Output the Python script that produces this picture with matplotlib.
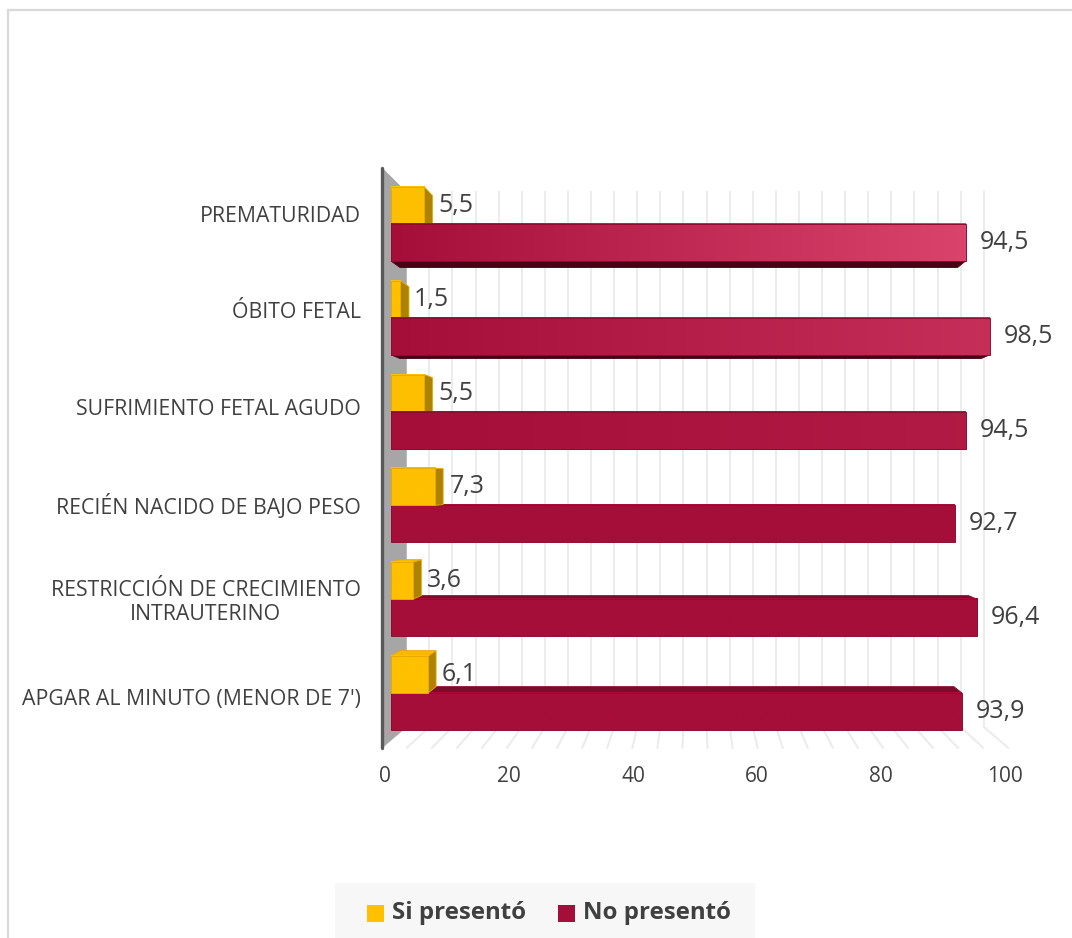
import numpy as np
import matplotlib.pyplot as plt
from matplotlib.patches import Polygon, Rectangle
from matplotlib.colors import to_rgb

plt.rcParams['font.family'] = ['Open Sans', 'DejaVu Sans']

# datos (de abajo hacia arriba)
categorias = ["APGAR AL MINUTO (MENOR DE 7')",
              "RESTRICCIÓN DE CRECIMIENTO\nINTRAUTERINO",
              "RECIÉN NACIDO DE BAJO PESO",
              "SUFRIMIENTO FETAL AGUDO",
              "ÓBITO FETAL",
              "PREMATURIDAD"]
si_presento = [6.1, 3.6, 7.3, 5.5, 1.5, 5.5]
no_presento = [93.9, 96.4, 92.7, 94.5, 98.5, 94.5]
ticks = [0, 20, 40, 60, 80, 100]
series = ["Si presentó", "No presentó"]

AMARILLO = "#FFC000"
ROJO = "#A50E38"
TEXTO = "#404040"

# perspectiva: punto de fuga y escala de cada plano de profundidad
VP = (50.0, 2.27)
S_FRENTE = 1.03
S_BARRA = 0.97
S_PARED = 0.95
ALTO = 0.395
C_BAJO, C_ALTO = -0.5, 5.5


def P(v, c, s):
    return (VP[0] + s * (v - VP[0]), VP[1] + s * (c - VP[1]))


def cara(ax, pts, color, z, edge=None):
    ax.add_patch(Polygon(pts, closed=True, facecolor=color,
                         edgecolor=edge if edge else color, lw=0.6, zorder=z))


def barra(ax, v, c0, c1, frente, lado, arriba, abajo, borde, z, brillo=0.0):
    sb = S_BARRA
    if v < VP[0]:
        cara(ax, [P(v, c0, 1), P(v, c1, 1), P(v, c1, sb), P(v, c0, sb)], lado, z, borde)
    if c1 < VP[1]:
        cara(ax, [P(0, c1, 1), P(v, c1, 1), P(v, c1, sb), P(0, c1, sb)], arriba, z, borde)
    if c0 > VP[1]:
        cara(ax, [P(0, c0, 1), P(v, c0, 1), P(v, c0, sb), P(0, c0, sb)], abajo, z, abajo)
    # cara frontal con degradado horizontal
    base = np.array(to_rgb(frente))
    claro = np.array(to_rgb("#DA436C"))
    t = np.linspace(0, 1, 200)[:, None] * brillo
    img = (base + t * (claro - base))[None, :, :]
    ax.imshow(img, extent=(0, v, c0, c1), aspect='auto',
              interpolation='bilinear', zorder=z + 0.1)
    ax.add_patch(Rectangle((0, c0), v, c1 - c0, facecolor='none',
                           edgecolor=borde, lw=0.7, zorder=z + 0.2))


fig = plt.figure(figsize=(10.72, 9.38), dpi=100)
fig.patch.set_facecolor('white')

# borde del área del gráfico
fig.add_artist(Rectangle((8 / 1072, -0.1), 1.2, (928 / 938) + 0.1,
                         transform=fig.transFigure, facecolor='none',
                         edgecolor='#D9D9D9', lw=1.6))

ax = fig.add_axes([330.2 / 1072, 151.2 / 938, 729.6 / 1072, 675.4 / 938])
ax.set_axis_off()

# pared del fondo y piso
for g in range(0, 101, 4):
    ax.plot(*zip(P(g, C_BAJO, S_PARED), P(g, C_ALTO, S_PARED)),
            color='#ECECEC', lw=1.5, zorder=1)
    ax.plot(*zip(P(g, C_BAJO, S_PARED), P(g, C_BAJO, S_FRENTE)),
            color='#ECECEC', lw=1.5, zorder=1)

# pared lateral
cara(ax, [P(0, C_ALTO, S_FRENTE), P(0, C_ALTO, S_PARED),
          P(0, C_BAJO, S_PARED), P(0, C_BAJO, S_FRENTE)], '#A6A6A6', 2)
ax.plot(*zip(P(0, C_ALTO, S_FRENTE), P(0, C_BAJO, S_FRENTE)),
        color='#595959', lw=2.4, zorder=2.5, solid_capstyle='round')

# barras: se dibujan primero las más alejadas del punto de fuga
piezas = []
for i in range(len(categorias)):
    piezas.append((si_presento[i], i, i + ALTO, 'si'))
    piezas.append((no_presento[i], i - ALTO, i, 'no'))
piezas.sort(key=lambda p: -abs((p[1] + p[2]) / 2 - VP[1]))

for k, (v, c0, c1, s) in enumerate(piezas):
    z = 3 + k
    if s == 'si':
        barra(ax, v, c0, c1, AMARILLO, '#AD8200', '#F7B900', '#C79500',
              '#E8AA00', z)
    else:
        brillo = max(0.0, (c1 - 2.4) / 2.6)
        barra(ax, v, c0, c1, ROJO, '#7A0828', '#7E0A2B', '#4A0014',
              '#8E0C31', z, brillo)
    ax.annotate(f"{v:.1f}".replace('.', ','), xy=(v, (c0 + c1) / 2),
                xytext=(14, 0), textcoords='offset pixels', ha='left',
                va='center', fontsize=18, color=TEXTO, zorder=50)

# etiquetas de categorías y del eje de valores
for i, nombre in enumerate(categorias):
    ax.annotate(nombre, xy=P(0, i, S_FRENTE), xytext=(-21, 0),
                textcoords='offset pixels', ha='right', va='center',
                multialignment='center', fontsize=15.3, color=TEXTO,
                annotation_clip=False)
for t in ticks:
    ax.annotate(str(t), xy=P(t, C_BAJO, 1.02), xytext=(0, -31),
                textcoords='offset pixels', ha='center', va='center',
                fontsize=15, color=TEXTO, annotation_clip=False)

ax.set_xlim(-10, 110)
ax.set_ylim(-1, 6.2)

# leyenda
fig.add_artist(Rectangle((335 / 1072, -0.05), 420 / 1072, 0.05 + 55 / 938,
                         transform=fig.transFigure, facecolor='#F7F7F7',
                         edgecolor='none'))
for x0, col, etiqueta in [(367, AMARILLO, series[0]), (558, ROJO, series[1])]:
    fig.add_artist(Rectangle((x0 / 1072, (938 - 922) / 938), 17 / 1072,
                             17 / 938, transform=fig.transFigure,
                             facecolor=col, edgecolor='none'))
    fig.text((x0 + 25) / 1072, (938 - 913) / 938, etiqueta, fontsize=17.3,
             fontweight='bold', color=TEXTO, va='center', ha='left')

fig.savefig('out.png', dpi=100)
